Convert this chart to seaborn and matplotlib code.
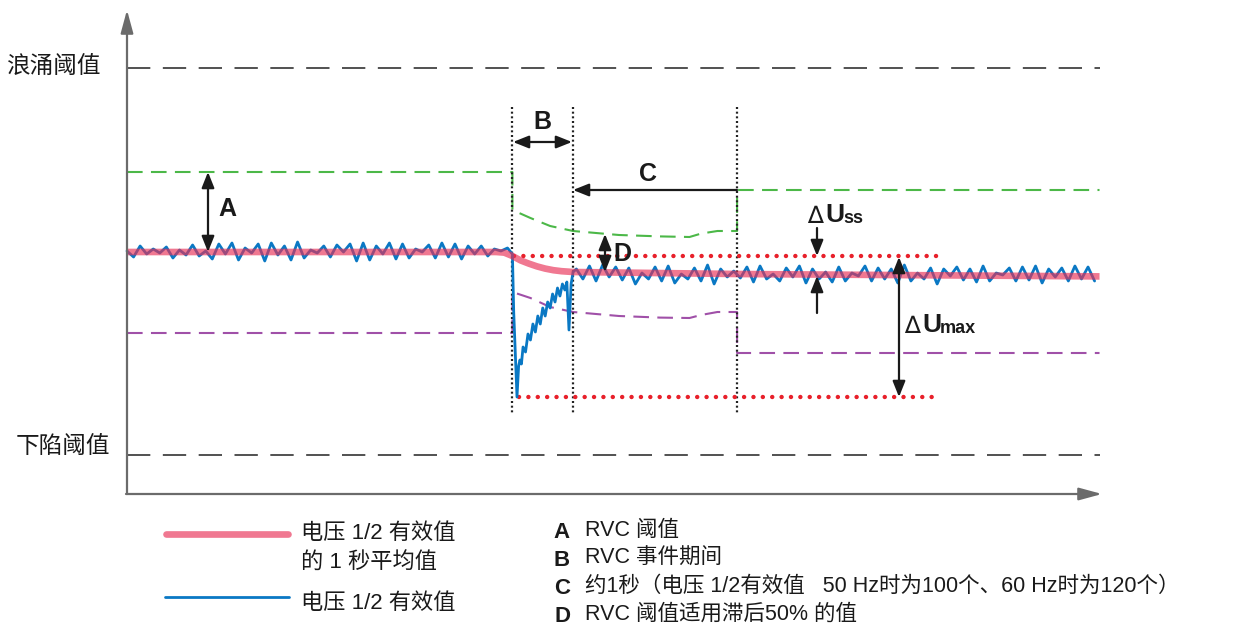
import numpy as np
import pandas as pd
import matplotlib
matplotlib.use("Agg")
import matplotlib.pyplot as plt
import seaborn as sns

# ---------------- data (time in s, voltage in % of nominal) ----------------
nominal_pre = 100.0
nominal_post = 98.85
swell_threshold = 109.2
dip_threshold = 89.85
t_event_start = 2.35
t_b_end = 2.72
t_c_end = 3.72
t_end = 5.93
t_red_end = 4.96
red_upper = 99.8
red_lower = 92.75

sample_step = 0.04
blue_pre_dev = [0.05, -0.25, 0.3, -0.1, 0.15, -0.05, 0.25, -0.3, 0.1, -0.15,
                0.35, -0.2, 0.05, -0.35, 0.4, -0.1, 0.45, -0.4, 0.2, -0.05,
                0.4, -0.45, 0.45, -0.15, 0.3, -0.4, 0.5, -0.3, 0.1, -0.05,
                0.3, -0.25, 0.35, 0.0, 0.4, -0.45, 0.45, -0.4, 0.3, -0.1,
                0.45, -0.35, 0.4, -0.3, 0.15, 0.0, 0.35, -0.3, 0.45, -0.25,
                0.4, -0.35, 0.3, -0.1, 0.3, -0.2, 0.15, 0.05, 0.2]
blue_event_t = [2.350, 2.358, 2.378, 2.388, 2.396, 2.405, 2.415, 2.43, 2.445, 2.46,
                2.475, 2.49, 2.505, 2.52, 2.535, 2.55, 2.565, 2.58, 2.595, 2.61,
                2.625, 2.64, 2.655, 2.67, 2.682, 2.695, 2.708, 2.72]
blue_event_v = [99.9, 97.0, 92.75, 94.3, 94.6, 94.4, 95.25, 95.0, 95.9, 95.6,
                96.4, 96.0, 96.8, 96.4, 97.2, 96.8, 97.5, 97.2, 97.9, 97.5,
                98.2, 97.8, 98.4, 98.1, 98.5, 96.1, 98.4, 99.0]
blue_post_start = 2.74
blue_post_dev = [0.3, -0.2, 0.45, -0.3, 0.5, -0.1, 0.4, -0.25, 0.35, -0.45,
                 0.1, -0.2, 0.4, -0.3, 0.45, -0.4, 0.05, -0.2, 0.35, -0.3,
                 0.5, -0.45, 0.3, -0.1, 0.2, -0.15, 0.4, -0.35, 0.45, -0.2,
                 0.05, -0.3, 0.35, -0.1, 0.45, -0.4, 0.3, -0.2, 0.15, -0.35,
                 0.4, -0.3, 0.1, -0.05, 0.45, -0.3, 0.35, -0.2, 0.3, -0.4,
                 0.5, -0.3, 0.1, -0.2, 0.35, -0.45, 0.3, -0.05, 0.4, -0.25,
                 0.3, -0.35, 0.45, -0.3, 0.1, 0.0, 0.35, -0.3, 0.4, -0.25,
                 0.45, -0.4, 0.3, -0.1, 0.35, -0.3, 0.45, -0.2, 0.4, -0.3]

pink_t = [0.0, 2.25, 2.30, 2.35, 2.40, 2.45, 2.50, 2.55, 2.60, 2.65, 2.72, 3.72, 5.93]
pink_v = [100.0, 100.0, 99.97, 99.8, 99.58, 99.42, 99.28, 99.17, 99.09, 99.04, 99.0, 98.9, 98.78]

upper_t = [0.0, 2.35, 2.35, 2.46, 2.58, 2.72, 3.0, 3.25, 3.43, 3.50, 3.6, 3.72, 3.72, 5.93]
upper_v = [104.0, 104.0, 102.1, 101.7, 101.3, 101.05, 100.85, 100.78, 100.75, 100.92, 101.05, 101.05, 103.1, 103.1]
lower_t = upper_t
lower_v = [95.95, 95.95, 98.0, 97.7, 97.25, 97.0, 96.8, 96.72, 96.7, 96.85, 97.0, 97.0, 94.95, 94.95]

y_labels = ["浪涌阈值", "下陷阈值"]
legend_pink = ["电压 1/2 有效值", "的 1 秒平均值"]
legend_blue = "电压 1/2 有效值"
letters = ["A", "B", "C", "D"]
letter_desc = ["RVC 阈值", "RVC 事件期间",
               "约1秒（电压 1/2有效值   50 Hz时为100个、60 Hz时为120个）",
               "RVC 阈值适用滞后50% 的值"]

# ---------------- styling ----------------
sns.set_theme(style="white")
plt.rcParams['font.family'] = ['Liberation Sans', 'Noto Sans CJK SC']

BLUE = "#0a78c4"
PINK = (232/255, 48/255, 86/255)
PINK_ALPHA = 0.65
GREEN = "#4cb848"
PURPLE = "#a050a8"
RED = "#e8202a"
DARK = "#1a1a1a"
AXISGRAY = "#6b6b6b"

W, H = 1236, 638
fig = plt.figure(figsize=(W / 100, H / 100), dpi=100)
ax = fig.add_axes([0, 0, 1, 1])

X0, Y0, SX, SY = 127, 252, 164, 20


def P(x, y):
    """pixel position -> data coordinates (for annotations only)"""
    return ((x - X0) / SX, 100 - (y - Y0) / SY)


# blue signal
t_pre = np.arange(len(blue_pre_dev)) * sample_step
t_post = blue_post_start + np.arange(len(blue_post_dev)) * sample_step
blue_t = np.concatenate([t_pre, blue_event_t, t_post])
blue_v = np.concatenate([nominal_pre + np.array(blue_pre_dev), blue_event_v,
                         nominal_post + np.array(blue_post_dev)])
df_blue = pd.DataFrame({"t": blue_t, "V": blue_v})
df_pink = pd.DataFrame({"t": pink_t, "V": pink_v})
df_up = pd.DataFrame({"t": upper_t, "V": upper_v})
df_lo = pd.DataFrame({"t": lower_t, "V": lower_v})

# thresholds swell/dip
for yv in (swell_threshold, dip_threshold):
    ax.plot([0, t_end], [yv, yv], color="#333333", lw=1.2,
            linestyle=(0, (14, 7.5)), zorder=2)

# RVC thresholds
sns.lineplot(data=df_up, x="t", y="V", ax=ax, color=GREEN, lw=1.5,
             estimator=None, sort=False, linestyle=(0, (7.5, 4)), zorder=3)
sns.lineplot(data=df_lo, x="t", y="V", ax=ax, color=PURPLE, lw=1.5,
             estimator=None, sort=False, linestyle=(0, (7.5, 4)), zorder=3)

# vertical dotted lines
for tv in (t_event_start, t_b_end, t_c_end):
    ax.plot([tv, tv], [P(0, 107)[1], P(0, 415)[1]], color="#222222", lw=1.6,
            linestyle=(0, (0.9, 1.2)), zorder=4)

# red dotted
ax.plot([t_event_start + 0.01, t_red_end], [red_upper, red_upper], color=RED, lw=3.2,
        linestyle=(0, (0.01, 2.1)), dash_capstyle="round", zorder=5)
ax.plot([t_event_start + 0.04, t_red_end], [red_lower, red_lower], color=RED, lw=3.2,
        linestyle=(0, (0.01, 2.1)), dash_capstyle="round", zorder=5)

# blue and pink lines
sns.lineplot(data=df_blue, x="t", y="V", ax=ax, color=BLUE, lw=2.0,
             estimator=None, sort=False, zorder=6)
sns.lineplot(data=df_pink, x="t", y="V", ax=ax, color=PINK, alpha=PINK_ALPHA, lw=4.8,
             estimator=None, sort=False, zorder=7, solid_capstyle="butt")

ax.set_xlim(P(0, 0)[0], P(W, 0)[0])
ax.set_ylim(P(0, H)[1], P(0, 0)[1])
ax.axis("off")

# axes with arrows
axis_style = "-|>,head_length=1.4,head_width=0.38"
ax.annotate("", xy=P(X0, 10), xytext=P(X0, 494),
            arrowprops=dict(arrowstyle=axis_style, color=AXISGRAY, lw=1.6,
                            shrinkA=0, shrinkB=0, mutation_scale=10), zorder=8)
ax.annotate("", xy=P(1102, 494), xytext=P(X0 - 1, 494),
            arrowprops=dict(arrowstyle=axis_style, color=AXISGRAY, lw=1.6,
                            shrinkA=0, shrinkB=0, mutation_scale=10), zorder=8)

# annotation arrows
dbl = "<|-|>,head_length=0.95,head_width=0.38"
one = "-|>,head_length=0.95,head_width=0.38"


def arrow(p_from, p_to, style):
    ax.annotate("", xy=P(*p_to), xytext=P(*p_from),
                arrowprops=dict(arrowstyle=style, color=DARK, lw=1.6,
                                shrinkA=0, shrinkB=0, mutation_scale=10), zorder=9)


arrow((208, 172), (208, 252), dbl)   # A
arrow((513, 142), (572, 142), dbl)   # B
arrow((737, 190), (573, 190), one)   # C
arrow((605, 234), (605, 272), dbl)   # D
arrow((817, 228), (817, 256), one)   # dUss top
arrow((817, 313), (817, 276), one)   # dUss bottom
arrow((899, 257), (899, 397), dbl)   # dUmax

bold = dict(fontweight="bold", color=DARK, ha="center", va="center", zorder=10)
ax.text(*P(227, 209), letters[0], fontsize=18, **bold)
ax.text(*P(542, 122), letters[1], fontsize=18, **bold)
ax.text(*P(648, 174), letters[2], fontsize=18, **bold)
ax.text(*P(622, 254), letters[3], fontsize=18, **bold)

# Delta U labels
ax.text(*P(807, 216), "∆", fontsize=17, color=DARK, ha="left", va="center",
        family="DejaVu Sans")
ax.text(*P(825, 215), "U", fontsize=19, fontweight="bold", color=DARK, ha="left", va="center")
ax.text(*P(843, 219), "ss", fontsize=13, fontweight="bold", color=DARK, ha="left", va="center")
ax.text(*P(904, 326), "∆", fontsize=17, color=DARK, ha="left", va="center",
        family="DejaVu Sans")
ax.text(*P(922, 325), "U", fontsize=19, fontweight="bold", color=DARK, ha="left", va="center")
ax.text(*P(940, 329), "max", fontsize=13, fontweight="bold", color=DARK, ha="left", va="center")

# threshold labels
ax.text(*P(101, 68), y_labels[0], fontsize=17, color=DARK, ha="right", va="center")
ax.text(*P(110, 447), y_labels[1], fontsize=17, color=DARK, ha="right", va="center")

# ---------------- bottom legend ----------------
ax.plot([P(166, 0)[0], P(288, 0)[0]], [P(0, 534)[1]] * 2, color=PINK, alpha=PINK_ALPHA,
        lw=4.8, solid_capstyle="round", clip_on=False)
ax.plot([P(165, 0)[0], P(289, 0)[0]], [P(0, 597)[1]] * 2, color=BLUE, lw=2.0,
        clip_on=False)
ax.text(*P(301, 534), legend_pink[0], fontsize=16, color=DARK, ha="left", va="center")
ax.text(*P(301, 563), legend_pink[1], fontsize=16, color=DARK, ha="left", va="center")
ax.text(*P(301, 604), legend_blue, fontsize=16, color=DARK, ha="left", va="center")

rows_y = [530, 558, 586, 614]
for letter, desc, yy in zip(letters, letter_desc, rows_y):
    ax.text(*P(562, yy + 3), letter, fontsize=16, fontweight="bold", color=DARK,
            ha="center", va="center")
    ax.text(*P(585, yy), desc, fontsize=15.5, color=DARK, ha="left", va="center")

fig.savefig("out.png", dpi=100)
